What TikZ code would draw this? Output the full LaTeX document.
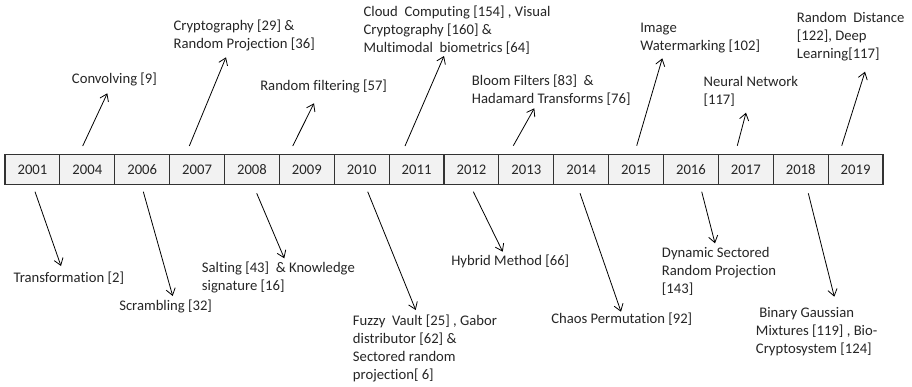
\documentclass[tikz,border=0pt]{standalone}
\usepackage{fontspec}
\setmainfont{Carlito}[Ligatures=NoCommon]
\usetikzlibrary{arrows.meta}
\begin{document}
\begin{tikzpicture}[x=0.75pt,y=-0.75pt,
  yearbox/.style={draw=black!80, line width=0.8pt, fill=black!5, minimum width=41.16pt, minimum height=23pt, inner sep=0pt, font=\fontsize{11}{13.5}\selectfont, text=black!85},
  lbl/.style={anchor=north west, inner sep=0pt, align=left, font=\fontsize{11}{13.5}\selectfont, text=black!85},
  arr/.style={-{Straight Barb[length=5pt,width=7pt]}, line width=0.6pt, black}]
\useasboundingbox (0,0) rectangle (912,386);
\fill[white] (0,0) rectangle (912,386);
% timeline
\foreach \yr [count=\i from 0] in {2001,2004,2006,2007,2008,2009,2010,2011,2012,2013,2014,2015,2016,2017,2018,2019}
  \node[yearbox] (y\yr) at ({5+54.875*(\i+0.5)},169.4) {\yr};
% labels above
\node[lbl] (conv) at (71.7,72.5) {Convolving [9]};
\node[lbl] (crypt) at (173.3,19.2) {Cryptography [29] \&\\Random Projection [36]};
\node[lbl] (rf) at (260,79.8) {Random filtering [57]};
\node[lbl] (cloud) at (363.3,5.8) {Cloud~ Computing [154] , Visual\\Cryptography [160] \&\\Multimodal~ biometrics [64]};
\node[lbl] (bloom) at (471.7,74.2) {Bloom Filters [83]~ \&\\Hadamard Transforms [76]};
\node[lbl] (image) at (640,22.5) {Image\\Watermarking [102]};
\node[lbl] (neural) at (703.3,75.8) {Neural Network\\{}[117]};
\node[lbl] (rd) at (796.7,12.5) {Random~ Distance\\{}[122], Deep\\Learning[117]};
% labels below
\node[lbl] (trans) at (13.3,271.8) {Transformation [2]};
\node[lbl] (scr) at (119,299.2) {Scrambling [32]};
\node[lbl] (salt) at (201.7,261.8) {Salting [43]~ \& Knowledge\\signature [16]};
\node[lbl] (fuzzy) at (352.7,314.2) {Fuzzy~ Vault [25] , Gabor\\distributor [62] \&\\Sectored random\\projection[ 6]};
\node[lbl] (hybrid) at (451,254.2) {Hybrid Method [66]};
\node[lbl] (chaos) at (551,312.5) {Chaos Permutation [92]};
\node[lbl] (dyn) at (661.7,247.5) {Dynamic Sectored\\Random Projection\\{}[143]};
\node[lbl] (bin) at (755.7,306.8) {\hspace*{2.5pt}Binary Gaussian\\Mixtures [119] , Bio-\\Cryptosystem [124]};
% arrow end points
\coordinate (a1s) at (82.7,146);   \coordinate (a1e) at (107.3,93.3);
\coordinate (a2s) at (189.3,146);  \coordinate (a2e) at (226,57.3);
\coordinate (a3s) at (292.7,146);  \coordinate (a3e) at (314,103.3);
\coordinate (a4s) at (405,146);    \coordinate (a4e) at (444,56);
\coordinate (a5s) at (513.3,145.7);\coordinate (a5e) at (534.3,108.3);
\coordinate (a6s) at (636.7,145.7);\coordinate (a6e) at (662.3,58.3);
\coordinate (a7s) at (737.3,145.7);\coordinate (a7e) at (746,112.7);
\coordinate (a8s) at (841.7,145.7);\coordinate (a8e) at (865,71.7);
\coordinate (b1s) at (35,191.7);   \coordinate (b1e) at (61,266);
\coordinate (b2s) at (143.3,191.7);\coordinate (b2e) at (172.7,296);
\coordinate (b3s) at (256.7,193.3);\coordinate (b3e) at (284.3,258.3);
\coordinate (b4s) at (367.7,191.7);\coordinate (b4e) at (415.7,310);
\coordinate (b5s) at (473.3,191.7);\coordinate (b5e) at (502.7,251.7);
\coordinate (b6s) at (580,193.3);  \coordinate (b6e) at (621,311.7);
\coordinate (b7s) at (701.7,191.7);\coordinate (b7e) at (715,243.3);
\coordinate (b8s) at (808.3,193.3);\coordinate (b8e) at (834.3,296.7);
\foreach \k in {a1,a2,a3,a4,a5,a6,a7,a8,b1,b2,b3,b4,b5,b6,b7,b8}
  \draw[arr] (\k s) -- (\k e);
\end{tikzpicture}
\end{document}
